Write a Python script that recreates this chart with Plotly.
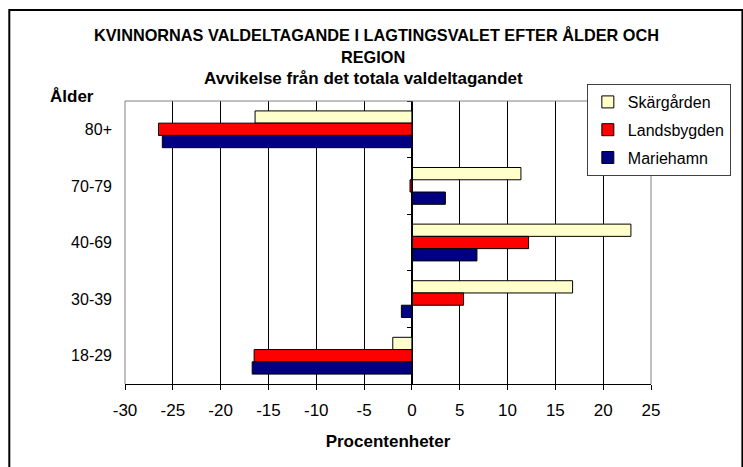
import plotly.graph_objects as go

# ---- data -------------------------------------------------------------
age_groups = ["80+", "70-79", "40-69", "30-39", "18-29"]          # top -> bottom
skargarden = [-16.4, 11.4, 22.9, 16.8, -2.0]
landsbygden = [-26.5, -0.2, 12.2, 5.4, -16.5]
mariehamn = [-26.1, 3.5, 6.8, -1.1, -16.7]
x_ticks = [-30, -25, -20, -15, -10, -5, 0, 5, 10, 15, 20, 25]
x_tick_labels = ["-30", "-25", "-20", "-15", "-10", "-5", "0", "5", "10", "15", "20", "25"]

series_names = ["Skärgården", "Landsbygden", "Mariehamn"]
series_values = [skargarden, landsbygden, mariehamn]
series_colors = ["#FFFFCC", "#FF0000", "#000080"]

# ---- layout geometry ----------------------------------------------------
W, H = 743, 467
ML, MR, MT, MB = 125, 77, 101, 83
PW, PH = W - ML - MR, H - MT - MB
FONT = "Liberation Sans, Arial, sans-serif"
XMIN, XMAX = x_ticks[0], x_ticks[-1]


def px_x(p):
    return (p - ML) / PW


def px_y(p):
    return (H - MB - p) / PH


fig = go.Figure()

for i, (name, vals, col) in enumerate(zip(series_names, series_values, series_colors)):
    fig.add_trace(go.Bar(
        y=age_groups, x=vals, orientation="h", name=name,
        marker=dict(color=col, line=dict(color="black", width=1)),
        legendgroup="g%d" % i,
    ))

# invisible helper trace for the category axis drawn at x = 0
fig.add_trace(go.Scatter(
    x=[0] * len(age_groups), y=age_groups, yaxis="y2", mode="markers",
    marker=dict(opacity=0), showlegend=False, hoverinfo="skip",
))

zero_pos = (0 - XMIN) / (XMAX - XMIN)
y_range = [len(age_groups) - 0.5, -0.5]   # first category at the top

fig.update_layout(
    width=W, height=H, autosize=False,
    margin=dict(l=ML, r=MR, t=MT, b=MB),
    paper_bgcolor="white", plot_bgcolor="white",
    font=dict(family=FONT, color="black", size=16),
    barmode="group", bargap=0.35, bargroupgap=0,
    showlegend=True,
    legend=dict(
        x=px_x(600), y=px_y(84), xanchor="left", yanchor="top",
        traceorder="grouped", tracegroupgap=4,
        bordercolor="#404040", borderwidth=1, bgcolor="white",
        font=dict(family=FONT, size=16),
    ),
    xaxis=dict(
        range=[XMIN, XMAX], tickmode="array", tickvals=x_ticks, ticktext=x_tick_labels,
        showgrid=True, gridcolor="black", gridwidth=1,
        zeroline=True, zerolinecolor="black", zerolinewidth=1,
        showline=True, linecolor="black", linewidth=1,
        ticks="outside", ticklen=5, tickcolor="black",
        tickfont=dict(family=FONT, size=17),
        ticklabelstandoff=6,
        title=dict(text="<b>Procentenheter</b>", standoff=15,
                   font=dict(family=FONT, size=17)),
        fixedrange=True,
    ),
    yaxis=dict(
        type="category", categoryorder="array", categoryarray=age_groups,
        range=y_range,
        showgrid=False, zeroline=False, showline=False,
        ticks="", tickfont=dict(family=FONT, size=16),
        ticklabelstandoff=12,
        fixedrange=True,
    ),
    yaxis2=dict(
        type="category", categoryorder="array", categoryarray=age_groups,
        range=y_range,
        overlaying="y", anchor="free", position=zero_pos, side="left",
        showgrid=False, zeroline=False, showline=True, linecolor="black",
        ticks="outside", ticklen=5, tickcolor="black", tickson="boundaries",
        showticklabels=False, fixedrange=True,
    ),
)

# plot-area border (grey) on top, left and right
border = dict(color="#808080", width=1)
fig.add_shape(type="line", xref="x domain", yref="y domain", x0=0, x1=1, y0=1, y1=1, line=border)
fig.add_shape(type="line", xref="x domain", yref="y domain", x0=0, x1=0, y0=0, y1=1, line=border)
fig.add_shape(type="line", xref="x domain", yref="y domain", x0=1, x1=1, y0=0, y1=1, line=border)

# chart frame (clipped on the right / bottom in the reference)
fig.add_shape(type="rect", xref="paper", yref="paper",
              x0=px_x(6), x1=px_x(760), y0=px_y(480), y1=px_y(10),
              line=dict(color="black", width=2), layer="below")

# titles
fig.add_annotation(text="<b>KVINNORNAS VALDELTAGANDE I LAGTINGSVALET EFTER ÅLDER OCH</b>",
                   xref="paper", yref="paper", x=px_x(384), y=px_y(35),
                   xanchor="center", yanchor="middle", showarrow=False,
                   font=dict(family=FONT, size=16.3))
fig.add_annotation(text="<b>REGION</b>",
                   xref="paper", yref="paper", x=px_x(380), y=px_y(57),
                   xanchor="center", yanchor="middle", showarrow=False,
                   font=dict(family=FONT, size=16.3))
fig.add_annotation(text="<b>Avvikelse från det totala valdeltagandet</b>",
                   xref="paper", yref="paper", x=px_x(370), y=px_y(78),
                   xanchor="center", yanchor="middle", showarrow=False,
                   font=dict(family=FONT, size=17))
fig.add_annotation(text="<b>Ålder</b>",
                   xref="paper", yref="paper", x=px_x(70), y=px_y(96),
                   xanchor="center", yanchor="middle", showarrow=False,
                   font=dict(family=FONT, size=17))

fig.write_html("out.html", config=dict(displayModeBar=False),
               post_script="document.body.style.margin='0';")
